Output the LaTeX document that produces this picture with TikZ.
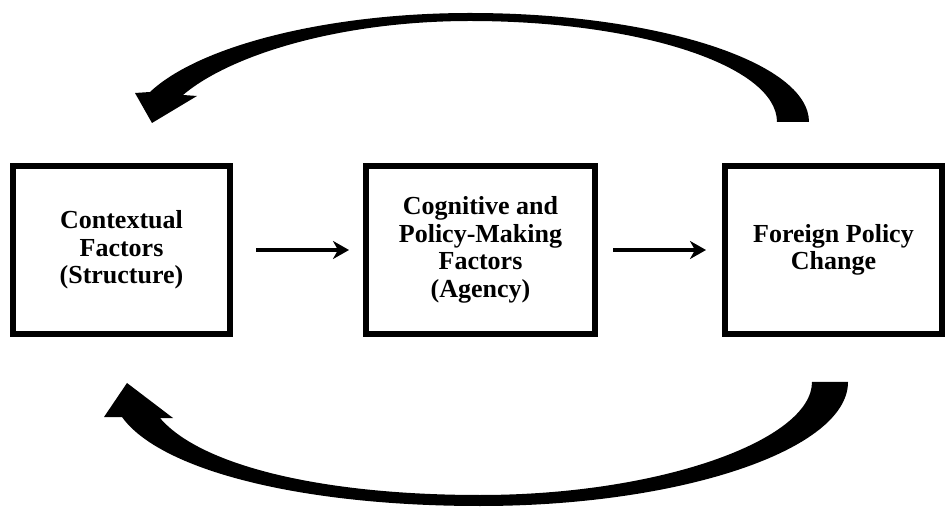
\documentclass[tikz,border=0pt]{standalone}
\usepackage{fontspec}
\setmainfont{Liberation Serif}
\usetikzlibrary{arrows.meta}
\begin{document}
\begin{tikzpicture}[x=1pt,y=-1pt,
  box/.style={draw,line width=6pt,minimum width=217pt,minimum height=168pt,inner sep=0pt,align=center,font=\fontsize{26}{27.5}\selectfont\bfseries},
  flow/.style={line width=4pt,-{Stealth[length=16pt,width=18pt,inset=5pt]}},
  bigarrow/.style={fill=black}]
\useasboundingbox (0,0) rectangle (945,510);
\node[box] (ctx) at (121.5,250) {Contextual\\Factors\\(Structure)};
\node[box,minimum width=229pt] (cog) at (480.5,250) {Cognitive and\\Policy-Making\\Factors\\(Agency)};
\node[box] (fpc) at (833.5,250) {Foreign Policy\\Change};
\draw[flow,shorten <=23pt,shorten >=14pt] (ctx.east) -- (cog.west);
\draw[flow,shorten <=15pt,shorten >=16pt] (cog.east) -- (fpc.west);
\fill[bigarrow] (809,122) .. controls (809,62) and (656,13) .. (470,13) .. controls (330,13) and (200,45) .. (150,92) -- (135,93) -- (152,123) -- (197,96) -- (183,95) .. controls (230,55) and (340,21) .. (470,21) .. controls (640,21) and (777,66) .. (777,122) -- cycle;
\fill[bigarrow] (848,382) .. controls (848,450) and (680,506) .. (480,506) .. controls (300,506) and (160,470) .. (122,417) -- (104,417) -- (127,383) -- (173,418) -- (160,418) .. controls (200,465) and (320,495) .. (480,495) .. controls (660,495) and (812,440) .. (812,382) -- cycle;
\end{tikzpicture}
\end{document}
